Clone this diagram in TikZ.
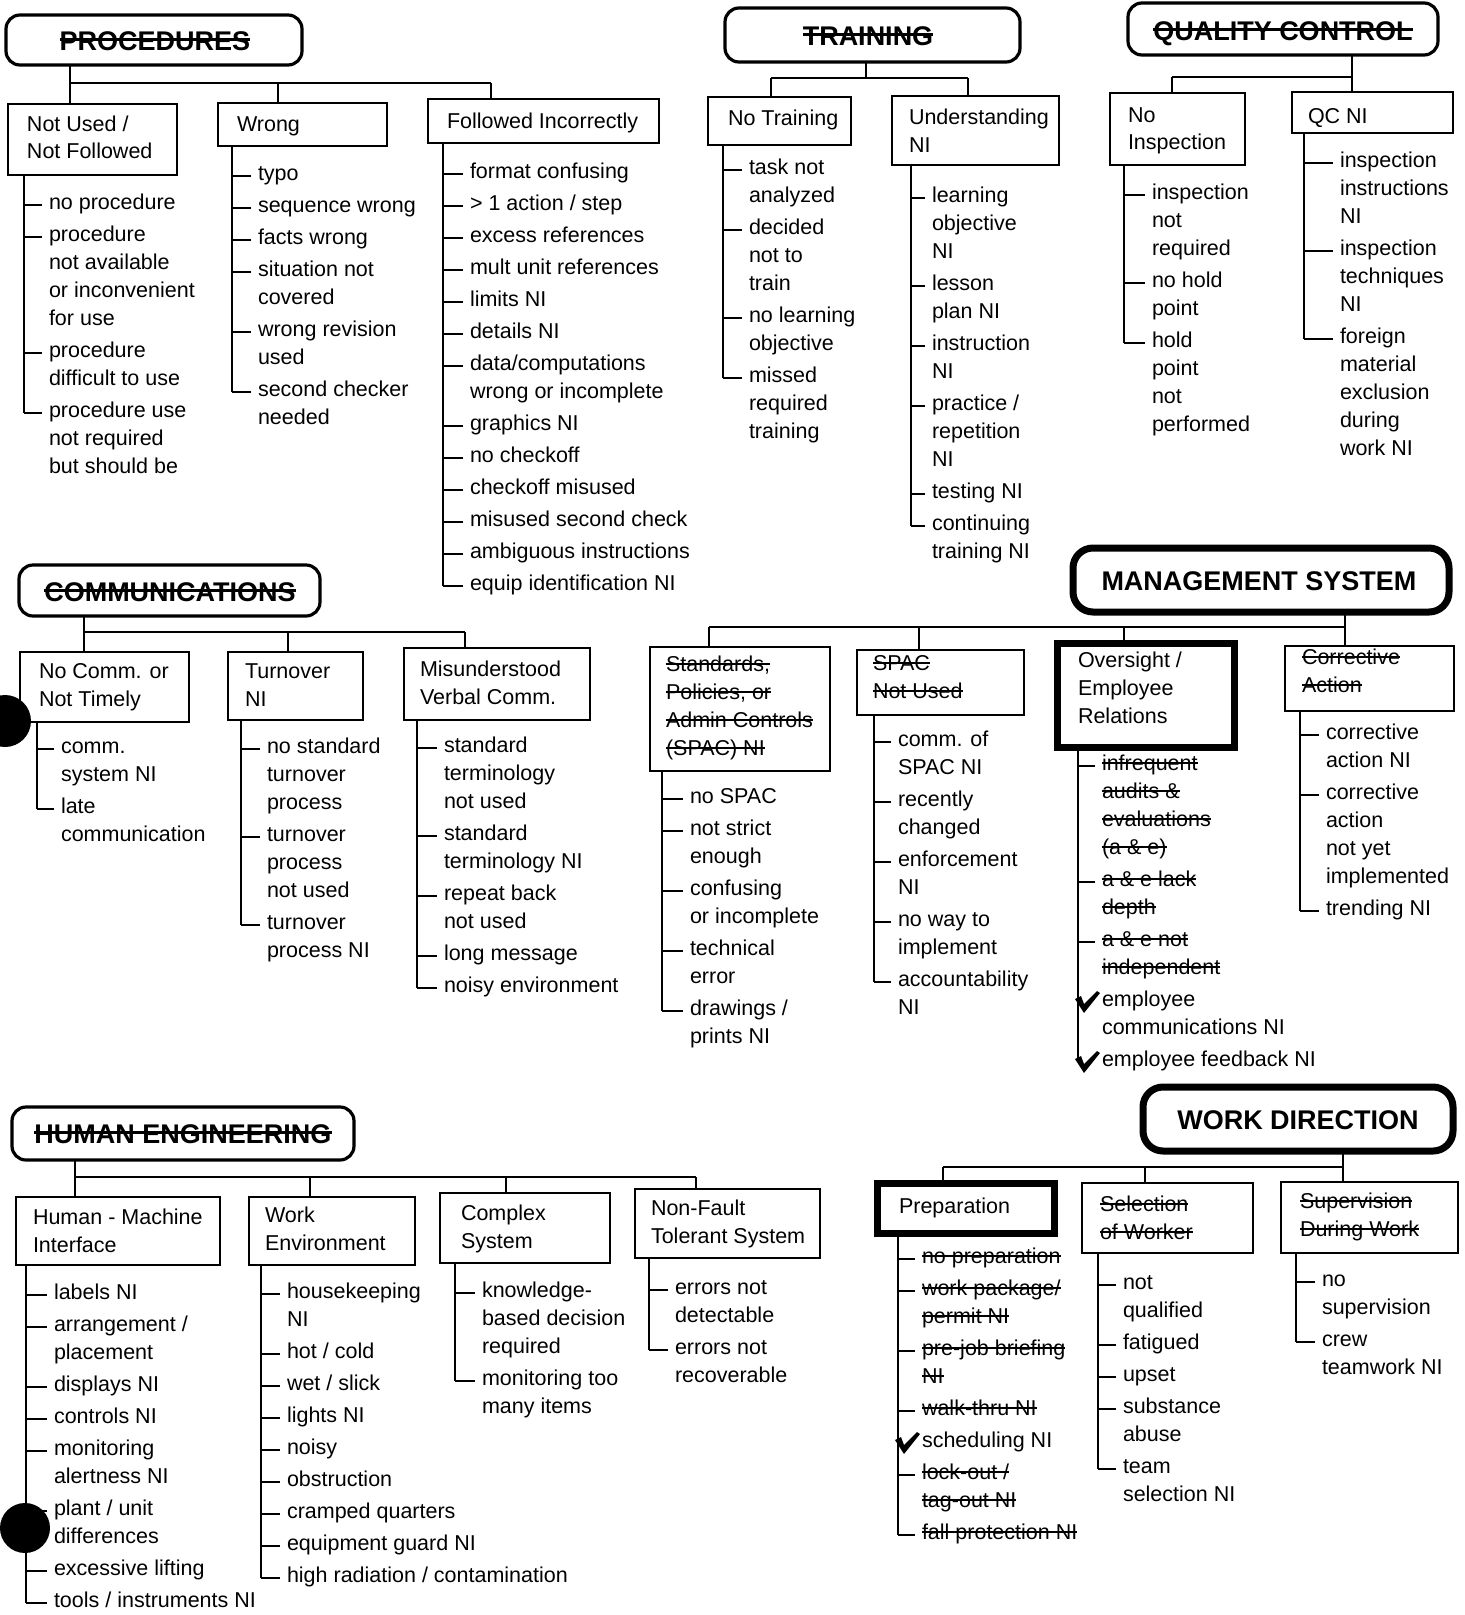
\documentclass[tikz,border=0pt]{standalone}
\usepackage{fontspec}
\setmainfont{Liberation Sans}
\usetikzlibrary{calc}
\newsavebox\stbox
\newcommand\strk[1]{\sbox\stbox{#1}\rlap{\rule[0.27em]{\wd\stbox}{1.8pt}}\usebox\stbox}
\newcommand\strkT[1]{\sbox\stbox{#1}\rlap{\rule[0.34em]{\wd\stbox}{2.8pt}}\usebox\stbox}
\newcommand\itmf{\fontsize{21.5}{28}\selectfont}
\newcommand\ttlf{\fontsize{27}{32}\selectfont\bfseries}
\newcount\nid
\newif\iffirst
\def\lst#1#2#3#4{\def\lx{#1}\def\lt{#2}\pgfmathsetmacro\yy{-#3}\firsttrue\def\lp{#4}}
\def\nxt{\iffirst\firstfalse\else\pgfmathsetmacro\yy{\yy-32}\fi\global\advance\nid by 1\relax}
\def\ia#1{\nxt\node[itm] (it\the\nid) at (\lt,\yy) {#1};\pgfmathsetmacro\ly{\yy+4}\draw[conn] (\lx,\ly) -- ($(it\the\nid.base west)+(-7,4)$);}
\def\ib#1{\pgfmathsetmacro\yy{\yy-28}\global\advance\nid by 1\relax\node[itm] (it\the\nid) at (\lt,\yy) {#1};}
\def\ic#1{\nxt\node[itm] (it\the\nid) at (\lt,\yy) {#1};\pgfmathsetmacro\ly{\yy+4}%
  \fill[line join=round] (\lx-3,\yy+7) -- (\lx+3,\yy+10) -- (\lx+6,\yy+2) -- (\lx+19,\yy+15) -- (\lx+22,\yy+13) -- (\lx+6,\yy-7) -- cycle;}
\def\ie{\draw[conn] (\lp.south -| \lx,0) -- (\lx,\ly);}
\def\bx#1#2#3#4#5#6{\node[#6, minimum width={(#4-#2)*1pt}, minimum height={(#5-#3)*1pt}, anchor=north west] (#1) at (#2,-#3) {};}
\def\lb#1#2#3#4{\node[itm] (#1) at (#2,-#3) {#4};}
\tikzset{
  conn/.style={line width=2.3pt},
  itm/.style={anchor=base west, inner sep=0pt, outer sep=0pt, font=\itmf},
  bxs/.style={draw, line width=2.5pt, inner sep=0pt, outer sep=0pt},
  bxk/.style={draw, line width=7pt, inner sep=0pt, outer sep=0pt},
  ttl/.style={draw, line width=3.2pt, rounded corners=14pt, inner sep=0pt, outer sep=0pt},
  ttk/.style={draw, line width=7pt, rounded corners=20pt, inner sep=0pt, outer sep=0pt},
  ttx/.style={anchor=base, inner sep=0pt, outer sep=0pt, font=\ttlf},
}
\begin{document}
\begin{tikzpicture}[x=1pt,y=1pt]
\path[use as bounding box, fill=white] (0,0) rectangle (1465,-1615);
% hole punches
\fill (5,-721) circle (26);
\fill (25,-1528) circle (25);

% ================= PROCEDURES
\bx{pT}{6}{15}{302}{65}{ttl}
\node[ttx] (pTx) at (155,-50) {\strkT{PROCEDURES}};
\bx{pN}{8}{104}{177}{175}{bxs}
\bx{pW}{218}{103}{387}{146}{bxs}
\bx{pF}{428}{99}{659}{143}{bxs}
\lb{pN1}{27}{131}{Not Used /}\lb{pN2}{27}{158}{Not Followed}
\lb{pW1}{237}{131}{Wrong}
\lb{pF1}{447}{128}{Followed Incorrectly}
\draw[conn] (pT.south -| 70,0) -- (70,-83) -- (491,-83);
\draw[conn] (70,-83) -- (pN.north -| 70,0);
\draw[conn] (278,-83) -- (pW.north -| 278,0);
\draw[conn] (491,-83) -- (pF.north -| 491,0);
\lst{24}{49}{209}{pN}
\ia{no procedure}
\ia{procedure}\ib{not available}\ib{or inconvenient}\ib{for use}
\ia{procedure}\ib{difficult to use}
\ia{procedure use}\ib{not required}\ib{but should be}
\ie
\lst{232}{258}{180}{pW}
\ia{typo}
\ia{sequence wrong}
\ia{facts wrong}
\ia{situation not}\ib{covered}
\ia{wrong revision}\ib{used}
\ia{second checker}\ib{needed}
\ie
\lst{443}{470}{178}{pF}
\ia{format confusing}
\ia{> 1 action / step}
\ia{excess references}
\ia{mult unit references}
\ia{limits NI}
\ia{details NI}
\ia{data/computations}\ib{wrong or incomplete}
\ia{graphics NI}
\ia{no checkoff}
\ia{checkoff misused}
\ia{misused second check}
\ia{ambiguous instructions}
\ia{equip identification NI}
\ie

% ================= TRAINING
\bx{tT}{725}{8}{1020}{62}{ttl}
\node[ttx] (tTx) at (868,-45) {\strkT{TRAINING}};
\bx{tN}{708}{97}{851}{145}{bxs}
\bx{tU}{892}{96}{1059}{165}{bxs}
\lb{tN1}{728}{125}{No Training}
\lb{tU1}{909}{124}{Understanding}\lb{tU2}{909}{152}{NI}
\draw[conn] (tT.south -| 866,0) -- (866,-78);
\draw[conn] (771,-78) -- (968,-78);
\draw[conn] (771,-78) -- (tN.north -| 771,0);
\draw[conn] (968,-78) -- (tU.north -| 968,0);
\lst{723}{749}{174}{tN}
\ia{task not}\ib{analyzed}
\ia{decided}\ib{not to}\ib{train}
\ia{no learning}\ib{objective}
\ia{missed}\ib{required}\ib{training}
\ie
\lst{911}{932}{202}{tU}
\ia{learning}\ib{objective}\ib{NI}
\ia{lesson}\ib{plan NI}
\ia{instruction}\ib{NI}
\ia{practice /}\ib{repetition}\ib{NI}
\ia{testing NI}
\ia{continuing}\ib{training NI}
\ie

% ================= QUALITY CONTROL
\bx{qT}{1128}{3}{1438}{55}{ttl}
\node[ttx] (qTx) at (1283,-40) {\strkT{QUALITY CONTROL}};
\bx{qN}{1110}{93}{1245}{165}{bxs}
\bx{qQ}{1292}{92}{1453}{133}{bxs}
\lb{qN1}{1128}{122}{No}\lb{qN2}{1128}{149}{Inspection}
\lb{qQ1}{1308}{123}{QC NI}
\draw[conn] (qT.south -| 1352,0) -- (qQ.north -| 1352,0);
\draw[conn] (1172,-77) -- (1352,-77);
\draw[conn] (1172,-77) -- (qN.north -| 1172,0);
\lst{1124}{1152}{199}{qN}
\ia{inspection}\ib{not}\ib{required}
\ia{no hold}\ib{point}
\ia{hold}\ib{point}\ib{not}\ib{performed}
\ie
\lst{1304}{1340}{167}{qQ}
\ia{inspection}\ib{instructions}\ib{NI}
\ia{inspection}\ib{techniques}\ib{NI}
\ia{foreign}\ib{material}\ib{exclusion}\ib{during}\ib{work NI}
\ie

% ================= COMMUNICATIONS
\bx{cT}{19}{565}{320}{616}{ttl}
\node[ttx] (cTx) at (170,-601) {\strkT{COMMUNICATIONS}};
\bx{cN}{20}{652}{189}{722}{bxs}
\bx{cT2}{228}{652}{363}{720}{bxs}
\bx{cM}{404}{648}{590}{720}{bxs}
\lb{cN1}{39}{678}{No Comm. or}\lb{cN2}{39}{706}{Not Timely}
\lb{cT21}{245}{678}{Turnover}\lb{cT22}{245}{706}{NI}
\lb{cM1}{420}{676}{Misunderstood}\lb{cM2}{420}{704}{Verbal Comm.}
\draw[conn] (cT.south -| 84,0) -- (84,-632) -- (465,-632);
\draw[conn] (84,-632) -- (cN.north -| 84,0);
\draw[conn] (288,-632) -- (cT2.north -| 288,0);
\draw[conn] (465,-632) -- (cM.north -| 465,0);
\lst{37}{61}{753}{cN}
\ia{comm.}\ib{system NI}
\ia{late}\ib{communication}
\ie
\lst{241}{267}{753}{cT2}
\ia{no standard}\ib{turnover}\ib{process}
\ia{turnover}\ib{process}\ib{not used}
\ia{turnover}\ib{process NI}
\ie
\lst{417}{444}{752}{cM}
\ia{standard}\ib{terminology}\ib{not used}
\ia{standard}\ib{terminology NI}
\ia{repeat back}\ib{not used}
\ia{long message}
\ia{noisy environment}
\ie

% ================= MANAGEMENT SYSTEM
\bx{mT}{1073}{548}{1449}{612}{ttk}
\node[ttx] (mTx) at (1259,-590) {MANAGEMENT SYSTEM};
\bx{mS}{650}{647}{830}{771}{bxs}
\bx{mP}{857}{650}{1024}{715}{bxs}
\bx{mO}{1057}{643}{1234}{747}{bxk}
\bx{mC}{1285}{646}{1454}{711}{bxs}
\lb{mS1}{666}{671}{\strk{Standards,}}\lb{mS2}{666}{699}{\strk{Policies, or}}
\lb{mS3}{666}{727}{\strk{Admin Controls}}\lb{mS4}{666}{755}{\strk{(SPAC) NI}}
\lb{mP1}{873}{670}{\strk{SPAC}}\lb{mP2}{873}{698}{\strk{Not Used}}
\lb{mO1}{1078}{667}{Oversight /}\lb{mO2}{1078}{695}{Employee}\lb{mO3}{1078}{723}{Relations}
\lb{mC1}{1302}{664}{\strk{Corrective}}\lb{mC2}{1302}{692}{\strk{Action}}
\draw[conn] (mT.south -| 1345,0) -- (mC.north -| 1345,0);
\draw[conn] (709,-627) -- (1345,-627);
\draw[conn] (709,-627) -- (mS.north -| 709,0);
\draw[conn] (919,-627) -- (mP.north -| 919,0);
\draw[conn] (1124,-627) -- (mO.north -| 1124,0);
\lst{662}{690}{803}{mS}
\ia{no SPAC}
\ia{not strict}\ib{enough}
\ia{confusing}\ib{or incomplete}
\ia{technical}\ib{error}
\ia{drawings /}\ib{prints NI}
\ie
\lst{874}{898}{746}{mP}
\ia{comm. of}\ib{SPAC NI}
\ia{recently}\ib{changed}
\ia{enforcement}\ib{NI}
\ia{no way to}\ib{implement}
\ia{accountability}\ib{NI}
\ie
\lst{1078}{1102}{770}{mO}
\ia{\strk{infrequent}}\ib{\strk{audits \&}}\ib{\strk{evaluations}}\ib{\strk{(a \& e)}}
\ia{\strk{a \& e lack}}\ib{\strk{depth}}
\ia{\strk{a \& e not}}\ib{\strk{independent}}
\ic{employee}\ib{communications NI}
\ic{employee feedback NI}
\ie
\lst{1300}{1326}{739}{mC}
\ia{corrective}\ib{action NI}
\ia{corrective}\ib{action}\ib{not yet}\ib{implemented}
\ia{trending NI}
\ie

% ================= HUMAN ENGINEERING
\bx{hT}{12}{1107}{354}{1160}{ttl}
\node[ttx] (hTx) at (183,-1143) {\strkT{HUMAN ENGINEERING}};
\bx{hH}{16}{1197}{220}{1265}{bxs}
\bx{hW}{249}{1197}{415}{1265}{bxs}
\bx{hC}{440}{1193}{610}{1263}{bxs}
\bx{hN}{635}{1189}{820}{1258}{bxs}
\lb{hH1}{33}{1224}{Human - Machine}\lb{hH2}{33}{1252}{Interface}
\lb{hW1}{265}{1222}{Work}\lb{hW2}{265}{1250}{Environment}
\lb{hC1}{461}{1220}{Complex}\lb{hC2}{461}{1248}{System}
\lb{hN1}{651}{1215}{Non-Fault}\lb{hN2}{651}{1243}{Tolerant System}
\draw[conn] (hT.south -| 75,0) -- (75,-1177) -- (696,-1177);
\draw[conn] (75,-1177) -- (hH.north -| 75,0);
\draw[conn] (310,-1177) -- (hW.north -| 310,0);
\draw[conn] (506,-1177) -- (hC.north -| 506,0);
\draw[conn] (696,-1177) -- (hN.north -| 696,0);
\lst{26}{54}{1299}{hH}
\ia{labels NI}
\ia{arrangement /}\ib{placement}
\ia{displays NI}
\ia{controls NI}
\ia{monitoring}\ib{alertness NI}
\ia{plant / unit}\ib{differences}
\ia{excessive lifting}
\ia{tools / instruments NI}
\ie
\lst{261}{287}{1298}{hW}
\ia{housekeeping}\ib{NI}
\ia{hot / cold}
\ia{wet / slick}
\ia{lights NI}
\ia{noisy}
\ia{obstruction}
\ia{cramped quarters}
\ia{equipment guard NI}
\ia{high radiation / contamination}
\ie
\lst{455}{482}{1297}{hC}
\ia{knowledge-}\ib{based decision}\ib{required}
\ia{monitoring too}\ib{many items}
\ie
\lst{649}{675}{1294}{hN}
\ia{errors not}\ib{detectable}
\ia{errors not}\ib{recoverable}
\ie

% ================= WORK DIRECTION
\bx{wT}{1143}{1087}{1453}{1151}{ttk}
\node[ttx] (wTx) at (1298,-1129) {WORK DIRECTION};
\bx{wP}{877}{1183}{1054}{1233}{bxk}
\bx{wS}{1082}{1183}{1253}{1253}{bxs}
\bx{wV}{1281}{1182}{1458}{1253}{bxs}
\lb{wP1}{899}{1213}{Preparation}
\lb{wS1}{1100}{1211}{\strk{Selection}}\lb{wS2}{1100}{1239}{\strk{of Worker}}
\lb{wV1}{1300}{1208}{\strk{Supervision}}\lb{wV2}{1300}{1236}{\strk{During Work}}
\draw[conn] (wT.south -| 1343,0) -- (wV.north -| 1343,0);
\draw[conn] (943,-1167) -- (1343,-1167);
\draw[conn] (943,-1167) -- (wP.north -| 943,0);
\draw[conn] (1145,-1167) -- (wS.north -| 1145,0);
\lst{898}{922}{1263}{wP}
\ia{\strk{no preparation}}
\ia{\strk{work package/}}\ib{\strk{permit NI}}
\ia{\strk{pre-job briefing}}\ib{\strk{NI}}
\ia{\strk{walk-thru NI}}
\ic{scheduling NI}
\ia{\strk{lock-out /}}\ib{\strk{tag-out NI}}
\ia{\strk{fall protection NI}}
\ie
\lst{1098}{1123}{1289}{wS}
\ia{not}\ib{qualified}
\ia{fatigued}
\ia{upset}
\ia{substance}\ib{abuse}
\ia{team}\ib{selection NI}
\ie
\lst{1296}{1322}{1286}{wV}
\ia{no}\ib{supervision}
\ia{crew}\ib{teamwork NI}
\ie
\end{tikzpicture}
\end{document}
